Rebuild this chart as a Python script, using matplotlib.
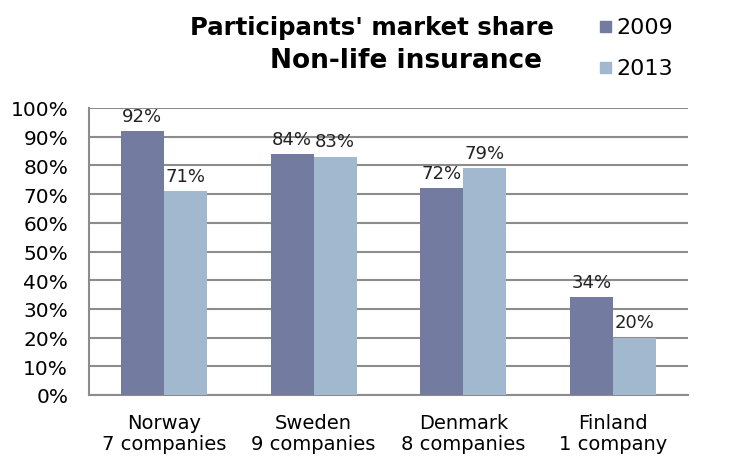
import numpy as np
import matplotlib.pyplot as plt
from matplotlib.ticker import PercentFormatter

countries = ["Norway\n7 companies", "Sweden\n9 companies", "Denmark\n8 companies", "Finland\n1 company"]
share_2009 = [92, 84, 72, 34]
share_2013 = [71, 83, 79, 20]
years = ["2009", "2013"]

C2009 = "#737ba1"
C2013 = "#a1b8cf"


def main():
    plt.rcParams["font.family"] = ["DejaVu Sans"]
    fig = plt.figure(figsize=(7.3, 4.64), dpi=100)
    ax = fig.add_axes([89 / 730, 1 - 396 / 464, 599 / 730, 287 / 464])

    x = np.arange(len(countries))
    w = 0.287
    b1 = ax.bar(x - w / 2, share_2009, w, color=C2009, zorder=3)
    b2 = ax.bar(x + w / 2, share_2013, w, color=C2013, zorder=3)

    for bars, vals in ((b1, share_2009), (b2, share_2013)):
        for r, v in zip(bars, vals):
            ax.text(r.get_x() + r.get_width() / 2, v + 2.2, f"{v}%",
                    ha="center", va="bottom", fontsize=13, color="#222222")

    ax.set_xlim(-0.5, len(countries) - 0.5)
    ax.set_ylim(0, 100)
    ax.set_yticks(np.arange(0, 101, 10))
    ax.yaxis.set_major_formatter(PercentFormatter(decimals=0))
    ax.set_xticks(x)
    ax.set_xticklabels(countries, fontsize=14, linespacing=1.1)
    ax.tick_params(axis="y", labelsize=14.5, length=0, pad=15)
    ax.tick_params(axis="x", length=0, pad=13)
    ax.grid(axis="y", color="#8c8c8c", linewidth=1.5, zorder=0)
    for s in ("top", "right"):
        ax.spines[s].set_visible(False)
    for s in ("left", "bottom"):
        ax.spines[s].set_color("#8c8c8c")
        ax.spines[s].set_linewidth(1.5)

    fig.text(372 / 730, 1 - 28 / 464, "Participants' market share",
             ha="center", va="center", fontsize=17.6, fontweight="bold")
    fig.text(406 / 730, 1 - 61 / 464, "Non-life insurance",
             ha="center", va="center", fontsize=19, fontweight="bold")

    for i, (yr, c) in enumerate(zip(years, [C2009, C2013])):
        yy = 1 - (28 + 41 * i) / 464
        fig.patches.append(plt.Rectangle((600 / 730, yy - 5 / 464), 11 / 730, 11 / 464,
                                         transform=fig.transFigure, color=c))
        fig.text(616 / 730, yy, yr, ha="left", va="center", fontsize=16)

    fig.savefig("out.png", dpi=100)


if __name__ == "__main__":
    main()
